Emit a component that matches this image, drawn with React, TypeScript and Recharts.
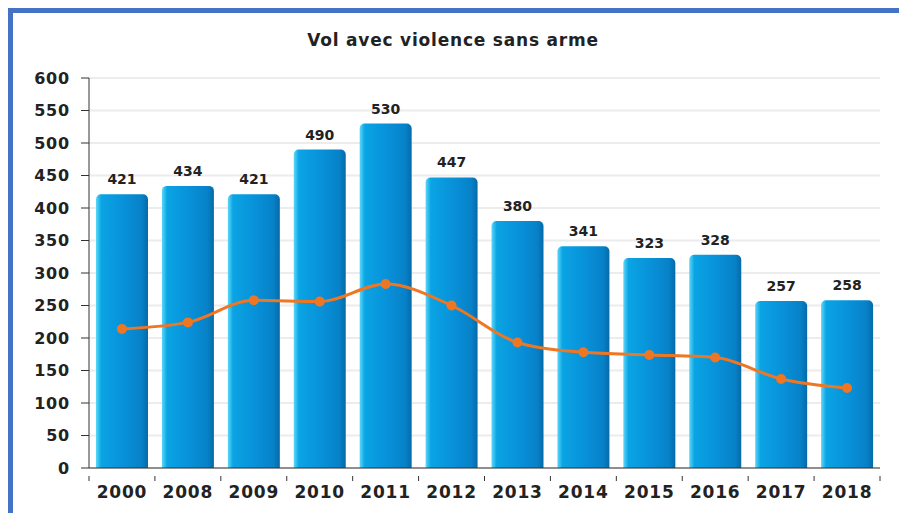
import { ComposedChart, Bar, Line, XAxis, YAxis, CartesianGrid, LabelList } from "recharts";

const years = ["2000", "2008", "2009", "2010", "2011", "2012", "2013", "2014", "2015", "2016", "2017", "2018"];
const barValues = [421, 434, 421, 490, 530, 447, 380, 341, 323, 328, 257, 258];
const lineValues = [214, 224, 258, 256, 283, 250, 193, 178, 174, 170, 137, 123];
const yTicks = [0, 50, 100, 150, 200, 250, 300, 350, 400, 450, 500, 550, 600];

const data = years.map((year, i) => ({ year, vols: barValues[i], tendance: lineValues[i] }));

const FONT = "'DejaVu Sans', sans-serif";
const AXIS = "#333";
const BAND = (880 - 89) / years.length;

function YearTick(props: any) {
	const { x, y, payload, index } = props;
	return (
		<g>
			<line x1={x - BAND / 2} y1={y} x2={x - BAND / 2} y2={y + 5} stroke={AXIS} />
			{index === years.length - 1 && (
				<line x1={x + BAND / 2} y1={y} x2={x + BAND / 2} y2={y + 5} stroke={AXIS} />
			)}
			<text
				x={x}
				y={y + 22}
				textAnchor="middle"
				fill="#222"
				fontSize={17}
				fontWeight="bold"
				letterSpacing={0.8}
				fontFamily={FONT}
			>
				{payload.value}
			</text>
		</g>
	);
}

export default function App() {
	return (
		<div style={{ position: "absolute", left: 0, top: 0, width: 899, height: 513, background: "#fff" }}>
			<div
				style={{
					position: "absolute",
					left: 8,
					top: 8,
					right: 0,
					bottom: 0,
					borderTop: "5px solid #4472C4",
					borderLeft: "5px solid #4472C4",
				}}
			/>
			<div
				style={{
					position: "absolute",
					left: 0,
					width: 906,
					top: 30,
					textAlign: "center",
					fontFamily: FONT,
					fontWeight: "bold",
					fontSize: 17,
					letterSpacing: 0.8,
					color: "#222",
				}}
			>
				Vol avec violence sans arme
			</div>
			<ComposedChart
				width={899}
				height={513}
				data={data}
				margin={{ top: 78, right: 19, left: 34, bottom: 15 }}
				style={{ position: "absolute", left: 0, top: 0 }}
			>
				<defs>
					<linearGradient id="barGrad" x1="0" y1="0" x2="1" y2="0">
						<stop offset="0%" stopColor="#5ad8fb" />
						<stop offset="10%" stopColor="#0aa4e4" />
						<stop offset="55%" stopColor="#0890d8" />
						<stop offset="88%" stopColor="#0781c8" />
						<stop offset="100%" stopColor="#066aa8" />
					</linearGradient>
				</defs>
				<CartesianGrid vertical={false} stroke="#ececec" strokeWidth={2} />
				<XAxis
					dataKey="year"
					stroke={AXIS}
					tickLine={false}
					tick={<YearTick />}
					height={30}
					interval={0}
				/>
				<YAxis
					domain={[0, 600]}
					ticks={yTicks}
					width={55}
					stroke={AXIS}
					tickSize={8}
					tickMargin={11}
					interval={0}
					tick={{ fill: "#222", fontSize: 16, fontWeight: "bold", fontFamily: FONT, letterSpacing: 0.8 }}
				/>
				<Bar dataKey="vols" fill="url(#barGrad)" barSize={52} radius={[5, 5, 0, 0]} isAnimationActive={false}>
					<LabelList
						dataKey="vols"
						position="top"
						offset={10}
						fill="#222"
						fontSize={14}
						fontWeight="bold"
						fontFamily={FONT}
					/>
				</Bar>
				<Line
					dataKey="tendance"
					type="monotone"
					stroke="#ef7622"
					strokeWidth={3}
					dot={{ r: 3.5, fill: "#ef7622", stroke: "#ef7622" }}
					activeDot={false}
					isAnimationActive={false}
				/>
			</ComposedChart>
		</div>
	);
}
